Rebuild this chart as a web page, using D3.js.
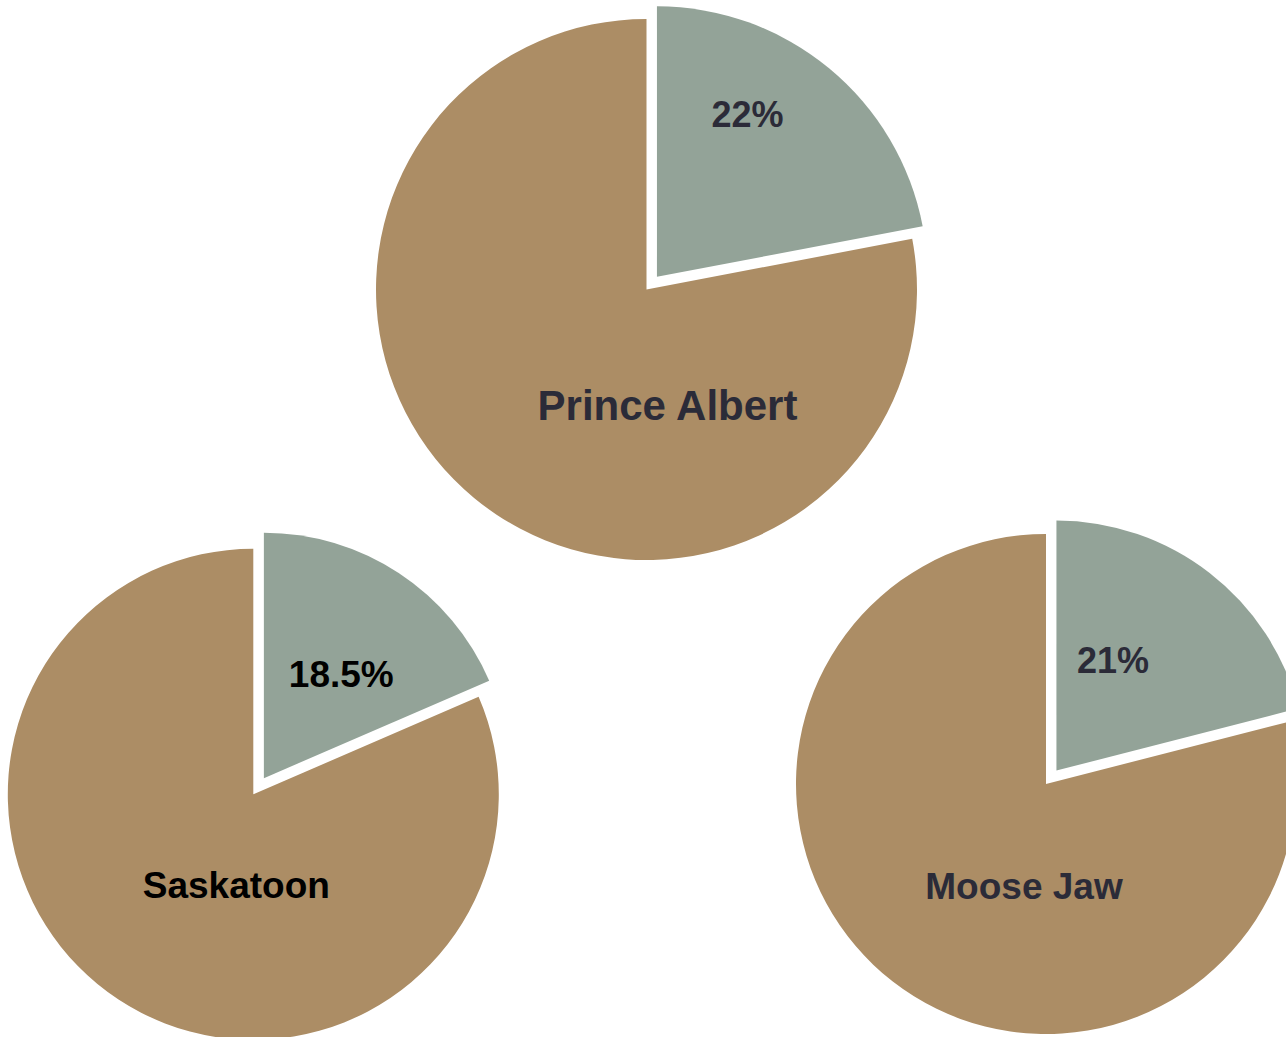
<!DOCTYPE html>
<html>
<head>
<meta charset="utf-8">
<script src="https://cdn.jsdelivr.net/npm/d3@7"></script>
<style>
  html, body { margin: 0; padding: 0; background: #fff; }
  svg { display: block; }
</style>
</head>
<body>
<div id="chart"></div>
<script>
// values
const cities = ["Prince Albert", "Saskatoon", "Moose Jaw"];
const shares = [22, 18.5, 21];          // highlighted (exploded) slice, in %
const shareLabels = ["22%", "18.5%", "21%"];

const width = 1286;
const height = 1037;

const colors = { share: "#93a398", rest: "#ac8d65" };

// where each pie sits, and where its two labels go (offsets from the pie centre)
const layout = [
  { cx: 646.5, cy: 289.5, r: 270.5, explode: 16.4, pct: [101, -162.5], name: [21, 130], ink: "#2b2b38", pctSize: 36, nameSize: 42 },
  { cx: 253.3, cy: 794.3, r: 245.5, explode: 19.3, pct: [88, -107.5], name: [-17, 104], ink: "#000000", pctSize: 37, nameSize: 37 },
  { cx: 1046, cy: 784, r: 250, explode: 17, pct: [67, -111.5], name: [-22, 114.5], ink: "#2b2b38", pctSize: 36, nameSize: 37 }
];

const svg = d3.select("#chart").append("svg")
  .attr("width", width)
  .attr("height", height)
  .attr("viewBox", [0, 0, width, height]);

const pie = d3.pie()
  .sort(null)
  .value(d => d.value);

cities.forEach((city, i) => {
  const L = layout[i];
  const slices = pie([
    { key: "share", value: shares[i] },
    { key: "rest", value: 100 - shares[i] }
  ]);
  const arc = d3.arc().innerRadius(0).outerRadius(L.r);

  const g = svg.append("g").attr("transform", `translate(${L.cx},${L.cy})`);

  g.selectAll("path")
    .data(slices)
    .join("path")
    .attr("fill", d => colors[d.data.key])
    .attr("transform", d => {
      if (d.data.key !== "share") return null;
      const mid = (d.startAngle + d.endAngle) / 2;
      return `translate(${Math.sin(mid) * L.explode},${-Math.cos(mid) * L.explode})`;
    })
    .attr("d", arc);

  g.append("text")
    .attr("x", L.pct[0])
    .attr("y", L.pct[1])
    .attr("text-anchor", "middle")
    .attr("font-family", "'Liberation Sans', Arial, sans-serif")
    .attr("font-weight", "bold")
    .attr("font-size", L.pctSize)
    .attr("fill", L.ink)
    .text(shareLabels[i]);

  g.append("text")
    .attr("x", L.name[0])
    .attr("y", L.name[1])
    .attr("text-anchor", "middle")
    .attr("font-family", "'Liberation Sans', Arial, sans-serif")
    .attr("font-weight", "bold")
    .attr("font-size", L.nameSize)
    .attr("fill", L.ink)
    .text(city);
});
</script>
</body>
</html>
